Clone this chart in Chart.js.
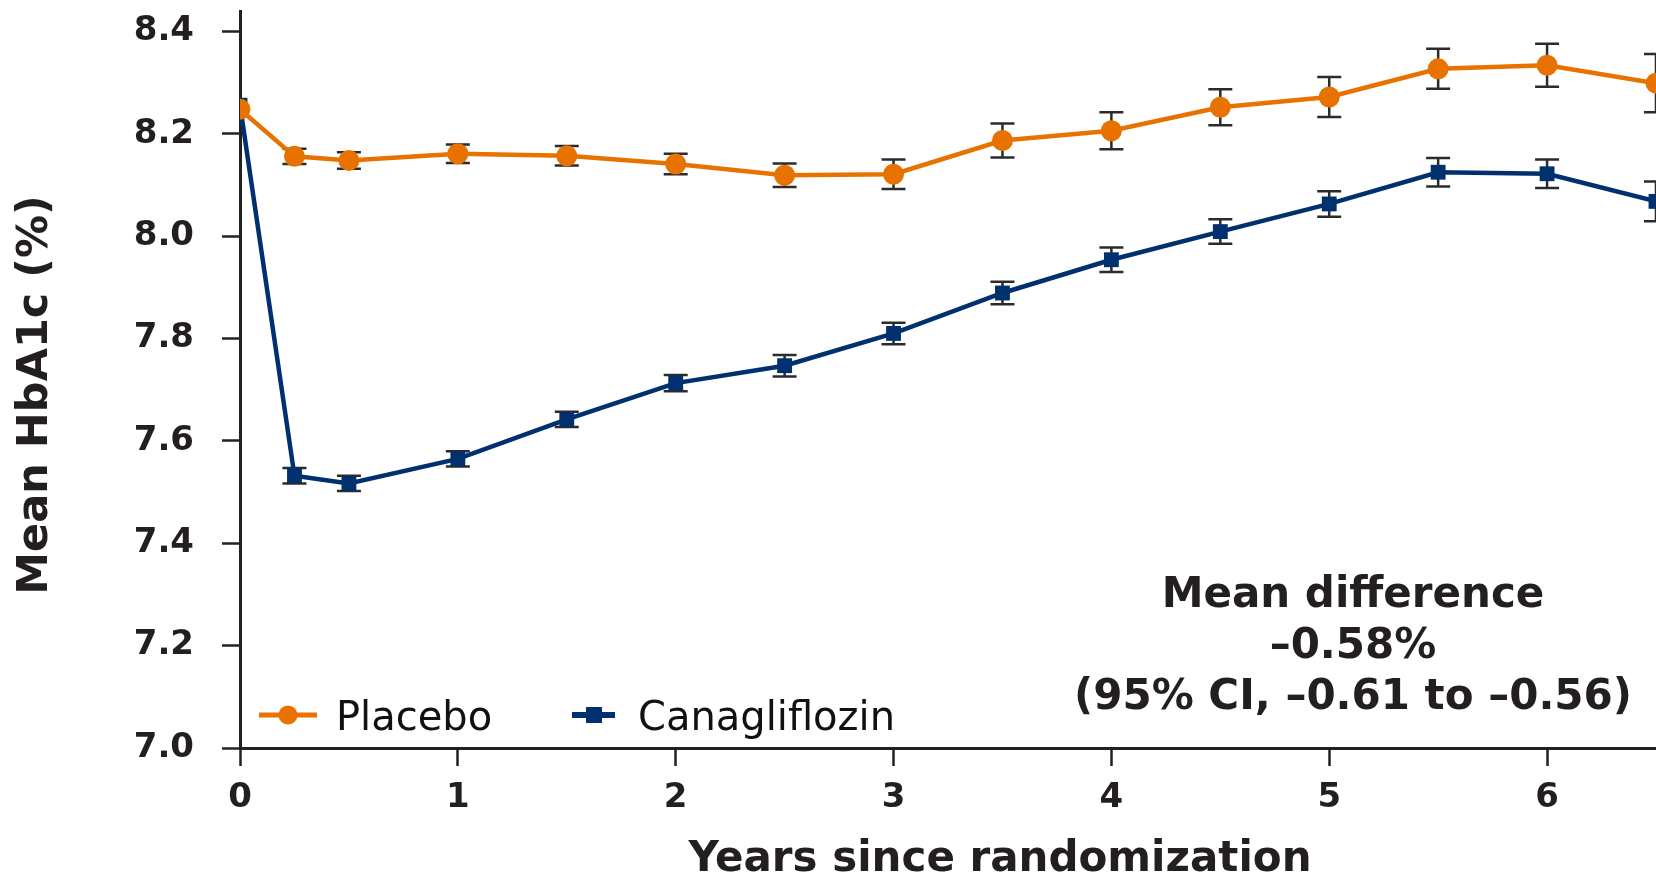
<!DOCTYPE html>
<html>
<head>
<meta charset="utf-8">
<script src="https://cdn.jsdelivr.net/npm/chart.js@4.4.1/dist/chart.umd.min.js"></script>
<style>
  html, body { margin: 0; padding: 0; background: #fff; }
  canvas { display: block; }
</style>
</head>
<body>
<canvas id="chart" width="1656" height="876"></canvas>
<script>
// years since randomization
const years = [0, 0.25, 0.5, 1, 1.5, 2, 2.5, 3, 3.5, 4, 4.5, 5, 5.5, 6, 6.5];

// mean HbA1c (%) and half-width of the error bars
const placebo    = [8.248, 8.156, 8.148, 8.161, 8.157, 8.141, 8.119, 8.121, 8.187, 8.206, 8.252, 8.272, 8.327, 8.334, 8.299];
const placeboErr = [0, 0.015, 0.016, 0.018, 0.019, 0.020, 0.023, 0.029, 0.033, 0.036, 0.035, 0.039, 0.039, 0.042, 0.057];
const cana       = [8.256, 7.532, 7.517, 7.565, 7.642, 7.713, 7.747, 7.810, 7.889, 7.954, 8.009, 8.063, 8.125, 8.122, 8.068];
const canaErr    = [0, 0.015, 0.015, 0.015, 0.015, 0.016, 0.021, 0.021, 0.022, 0.024, 0.024, 0.025, 0.028, 0.028, 0.039];

const xTicks = [0, 1, 2, 3, 4, 5, 6];
const yTicks = [7.0, 7.2, 7.4, 7.6, 7.8, 8.0, 8.2, 8.4];

const seriesNames = ["Placebo", "Canagliflozin"];
const xTitle = "Years since randomization";
const yTitle = "Mean HbA1c (%)";
const note = ["Mean difference", "\u20130.58%", "(95% CI, \u20130.61 to \u20130.56)"];

const ORANGE = "#E87200";
const NAVY = "#00316E";
const INK = "#231F20";
const FONT = "'DejaVu Sans', sans-serif";

const toPoints = (vals) => vals.map((v, i) => ({ x: years[i], y: v }));

// error bars go under the markers
const errorBars = {
  id: "errorBars",
  beforeDatasetsDraw(chart) {
    const { ctx, scales: { x, y } } = chart;
    ctx.save();
    ctx.strokeStyle = "#2B2B2B";
    ctx.lineWidth = 2.5;
    chart.data.datasets.forEach((ds) => {
      ds.data.forEach((pt, i) => {
        const e = ds.errors[i];
        if (!e) return;
        const px = x.getPixelForValue(pt.x);
        const top = y.getPixelForValue(pt.y + e);
        const bot = y.getPixelForValue(pt.y - e);
        ctx.beginPath();
        ctx.moveTo(px, top);
        ctx.lineTo(px, bot);
        ctx.moveTo(px - 12, top);
        ctx.lineTo(px + 12, top);
        ctx.moveTo(px - 12, bot);
        ctx.lineTo(px + 12, bot);
        ctx.stroke();
      });
    });
    ctx.restore();
  },
};

// axis titles, legend and the mean-difference note
const textLayer = {
  id: "textLayer",
  afterDraw(chart) {
    const ctx = chart.ctx;
    ctx.save();
    ctx.fillStyle = INK;
    ctx.textBaseline = "alphabetic";
    ctx.textAlign = "center";

    ctx.font = "bold 43px " + FONT;
    ctx.save();
    ctx.translate(47, 395);
    ctx.rotate(-Math.PI / 2);
    ctx.fillText(yTitle, 0, 0);
    ctx.restore();

    ctx.font = "bold 42px " + FONT;
    ctx.fillText(xTitle, 1000, 871);

    ctx.font = "bold 42px " + FONT;
    note.forEach((line, i) => ctx.fillText(line, 1353, 607 + i * 51));

    // legend
    const ly = 715;
    ctx.lineWidth = 5;
    ctx.strokeStyle = ORANGE;
    ctx.beginPath();
    ctx.moveTo(259, ly);
    ctx.lineTo(317, ly);
    ctx.stroke();
    ctx.fillStyle = ORANGE;
    ctx.beginPath();
    ctx.arc(288, ly, 9.5, 0, Math.PI * 2);
    ctx.fill();

    ctx.lineWidth = 6;
    ctx.strokeStyle = NAVY;
    ctx.beginPath();
    ctx.moveTo(572, ly);
    ctx.lineTo(615, ly);
    ctx.stroke();
    ctx.fillStyle = NAVY;
    ctx.fillRect(586, ly - 8, 16, 16);

    ctx.fillStyle = "#111";
    ctx.textAlign = "left";
    ctx.font = "40px " + FONT;
    ctx.fillText(seriesNames[0], 336, 730);
    ctx.fillText(seriesNames[1], 638, 730);
    ctx.restore();
  },
};

const noOverhang = (scale) => {
  scale.paddingTop = 0;
  scale.paddingBottom = 0;
  scale.paddingLeft = 0;
  scale.paddingRight = 0;
};

new Chart(document.getElementById("chart"), {
  type: "line",
  data: {
    datasets: [
      {
        label: seriesNames[0],
        data: toPoints(placebo),
        errors: placeboErr,
        borderColor: ORANGE,
        backgroundColor: ORANGE,
        borderWidth: 4.5,
        pointStyle: "circle",
        pointRadius: 10.5,
        pointBorderWidth: 0,
        pointBackgroundColor: ORANGE,
        tension: 0,
      },
      {
        label: seriesNames[1],
        data: toPoints(cana),
        errors: canaErr,
        borderColor: NAVY,
        backgroundColor: NAVY,
        borderWidth: 4.5,
        pointStyle: "rect",
        pointRadius: 10.5,
        pointBorderWidth: 0,
        pointBackgroundColor: NAVY,
        tension: 0,
      },
    ],
  },
  options: {
    responsive: false,
    animation: false,
    devicePixelRatio: 1,
    layout: { autoPadding: false, padding: { top: 11, right: 0, bottom: 0, left: 0 } },
    plugins: {
      legend: { display: false },
      tooltip: { enabled: false },
    },
    scales: {
      x: {
        type: "linear",
        min: 0,
        max: 6.5,
        afterBuildTicks: (scale) => {
          scale.ticks = xTicks.map((v) => ({ value: v }));
        },
        afterFit: (scale) => {
          scale.height = 128;
          noOverhang(scale);
        },
        ticks: {
          color: INK,
          padding: 12,
          font: { family: FONT, size: 34, weight: "bold" },
          callback: (v) => String(v),
        },
        grid: {
          drawOnChartArea: false,
          tickLength: 18,
          tickWidth: 2.5,
          tickColor: "#222",
        },
        border: { color: "#222", width: 3 },
        title: { display: false },
      },
      y: {
        min: 7.0,
        max: 8.44,
        afterBuildTicks: (scale) => {
          scale.ticks = yTicks.map((v) => ({ value: v }));
        },
        afterFit: (scale) => {
          scale.width = 240;
          noOverhang(scale);
        },
        ticks: {
          color: INK,
          padding: 28,
          font: { family: FONT, size: 34, weight: "bold" },
          callback: (v) => Number(v).toFixed(1),
        },
        grid: {
          drawOnChartArea: false,
          tickLength: 18,
          tickWidth: 2.5,
          tickColor: "#222",
        },
        border: { color: "#222", width: 3 },
        title: { display: false },
      },
    },
  },
  plugins: [errorBars, textLayer],
});
</script>
</body>
</html>
